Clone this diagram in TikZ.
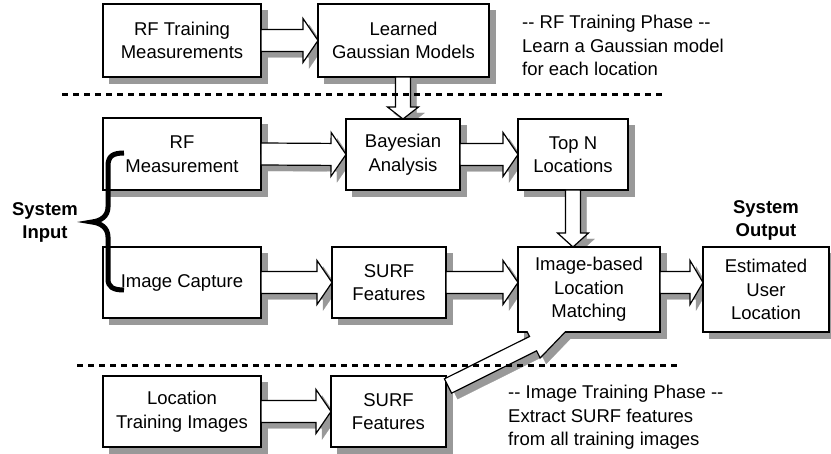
\documentclass[tikz,border=0pt]{standalone}
\usepackage{fontspec}
\setmainfont{Liberation Sans}
\usetikzlibrary{calc}
\definecolor{shadowgray}{rgb}{0.6,0.6,0.6}
\tikzset{
 shadowbox/.style={fill=shadowgray, draw=shadowgray, line width=0.2pt, inner sep=0pt, outer sep=0pt, xshift=6pt, yshift=-6pt},
 box/.style={draw=black, line width=1.4pt, fill=white, inner sep=0pt, outer sep=0pt, align=center, font=\fontsize{18.5}{23.5}\selectfont},
 fatarrow/.style={draw=black, line width=1.2pt, fill=white, line join=miter},
 shadowfill/.style={fill=shadowgray, draw=shadowgray, line width=0.2pt},
 sepline/.style={line width=3pt, dash pattern=on 6pt off 5pt},
 note/.style={inner sep=0pt, align=left, font=\fontsize{18.5}{23.5}\selectfont, anchor=north west},
 sidelabel/.style={inner sep=0pt, align=center, font=\fontsize{18.5}{23.5}\selectfont\bfseries, anchor=north},
 bracestyle/.style={line width=5pt}
}
\newcommand\boxtext[1]{}
% #1 from, #2 to, #3 body half width, #4 head half width, #5 head length
\newcommand\arrowpts[5]{%
  \coordinate (fa1) at #1; \coordinate (fa2) at #2;
  \coordinate (fah) at ($(fa2)!#5!(fa1)$);
  \coordinate (p1) at ($(fa1)!#3!90:(fa2)$);
  \coordinate (p2) at ($(fah)!#3!90:(fa2)$);
  \coordinate (p3) at ($(fah)!#4!90:(fa2)$);
  \coordinate (p4) at ($(fah)!#4!-90:(fa2)$);
  \coordinate (p5) at ($(fah)!#3!-90:(fa2)$);
  \coordinate (p6) at ($(fa1)!#3!-90:(fa2)$);
}
% shadow pass: the nodes are already placed 6pt right and down
\newcommand\arrowshadow[5]{%
  \arrowpts{#1}{#2}{#3}{#4}{#5}%
  \filldraw[shadowfill] (p1) -- (p2) -- (p3) -- (fa2) -- (p4) -- (p5) -- (p6) -- cycle;
}
\newcommand\arrowbody[5]{%
  \arrowpts{#1}{#2}{#3}{#4}{#5}%
  \draw[fatarrow] (p1) -- (p2) -- (p3) -- (fa2) -- (p4) -- (p5) -- (p6) -- cycle;
}
\newcommand\placeboxes[1]{%
\node[#1, minimum width=158, minimum height=73] (rft) at (182,40.5) {\boxtext{RF Training\\Measurements}};
\node[#1, minimum width=171, minimum height=73] (lgm) at (403.5,40.5) {\boxtext{Learned\\Gaussian Models}};
\node[#1, minimum width=158, minimum height=72] (rfm) at (182,154) {\boxtext{RF\\Measurement}};
\node[#1, minimum width=114, minimum height=71] (bay) at (403,154.5) {\boxtext{Bayesian\\Analysis}};
\node[#1, minimum width=110, minimum height=71] (topn) at (573,154.5) {\boxtext{Top N\\Locations}};
\node[#1, minimum width=158, minimum height=71] (imc) at (182,282.5) {\boxtext{Image Capture}};
\node[#1, minimum width=114, minimum height=71] (surfa) at (389,282.5) {\boxtext{SURF\\Features}};
\node[#1, minimum width=142, minimum height=85] (match) at (589,289.5) {\boxtext{Image-based\\Location\\Matching}};
\node[#1, minimum width=126, minimum height=85] (est) at (766,289.5) {\boxtext{Estimated\\User\\Location}};
\node[#1, minimum width=158, minimum height=71] (lti) at (182,411.5) {\boxtext{Location\\Training Images}};
\node[#1, minimum width=115, minimum height=71] (surfb) at (388.5,411.5) {\boxtext{SURF\\Features}};
}
\newcommand\placearrows[1]{%
#1{(rft.east)}{(lgm.west)}{11pt}{22pt}{15pt}
#1{(rfm.east)}{(bay.west)}{11pt}{22pt}{15pt}
#1{(bay.east)}{(topn.west)}{11pt}{22pt}{15pt}
#1{(imc.east)}{(surfa.west)}{11pt}{22pt}{15pt}
#1{(surfa.east)}{(surfa.east -| match.west)}{11pt}{22pt}{15pt}
#1{(surfa.east -| match.east)}{(surfa.east -| est.west)}{11pt}{22pt}{13pt}
#1{(lti.east)}{(surfb.west)}{11pt}{22pt}{15pt}
#1{(bay.north |- lgm.south)}{(bay.north)}{7.5pt}{15.5pt}{12pt}
#1{(topn.south)}{(topn.south |- match.north)}{7.5pt}{15.5pt}{14pt}
\coordinate (dtail) at ($(surfb.north east)+(2,10)$);
\coordinate (dtip) at ($(match.south)+(-15.7,-8.4)$);
\begin{scope}
\clip ($(match.south west)+(-200,0)$) rectangle (900,500);
#1{(dtail)}{(dtip)}{8pt}{16pt}{45pt}
\end{scope}
}
\begin{document}
\begin{tikzpicture}[x=1pt,y=-1pt]
\useasboundingbox (0,0) rectangle (831,454);
% pass 1: shadows (boxes shifted 6pt right and down, arrows built on them)
\placeboxes{shadowbox}
\placearrows{\arrowshadow}
% pass 2: the boxes and arrows themselves
\renewcommand\boxtext[1]{#1}
\placeboxes{box}
\placearrows{\arrowbody}
% separators
\draw[sepline] (62,95) -- (663,95);
\draw[sepline] (77,366) -- (677,366);
% brace
\draw[bracestyle] (124,153) .. controls (113,153) and (108,156) .. (108,166) -- (108,207) .. controls (108,216) and (101,221) .. (92,222) .. controls (101,223) and (108,228) .. (108,237) -- (108,279) .. controls (108,287) and (113,290) .. (124,290);
% labels
\node[sidelabel] (sysin) at (45,202) {System\\Input};
\node[sidelabel] (sysout) at (766,200) {System\\Output};
\node[note] (rfnote) at (522,15) {-{}- RF Training Phase -{}-\\Learn a Gaussian model\\for each location};
\node[note] (imnote) at (508,385) {-{}- Image Training Phase -{}-\\Extract SURF features\\from all training images};
\end{tikzpicture}
\end{document}
